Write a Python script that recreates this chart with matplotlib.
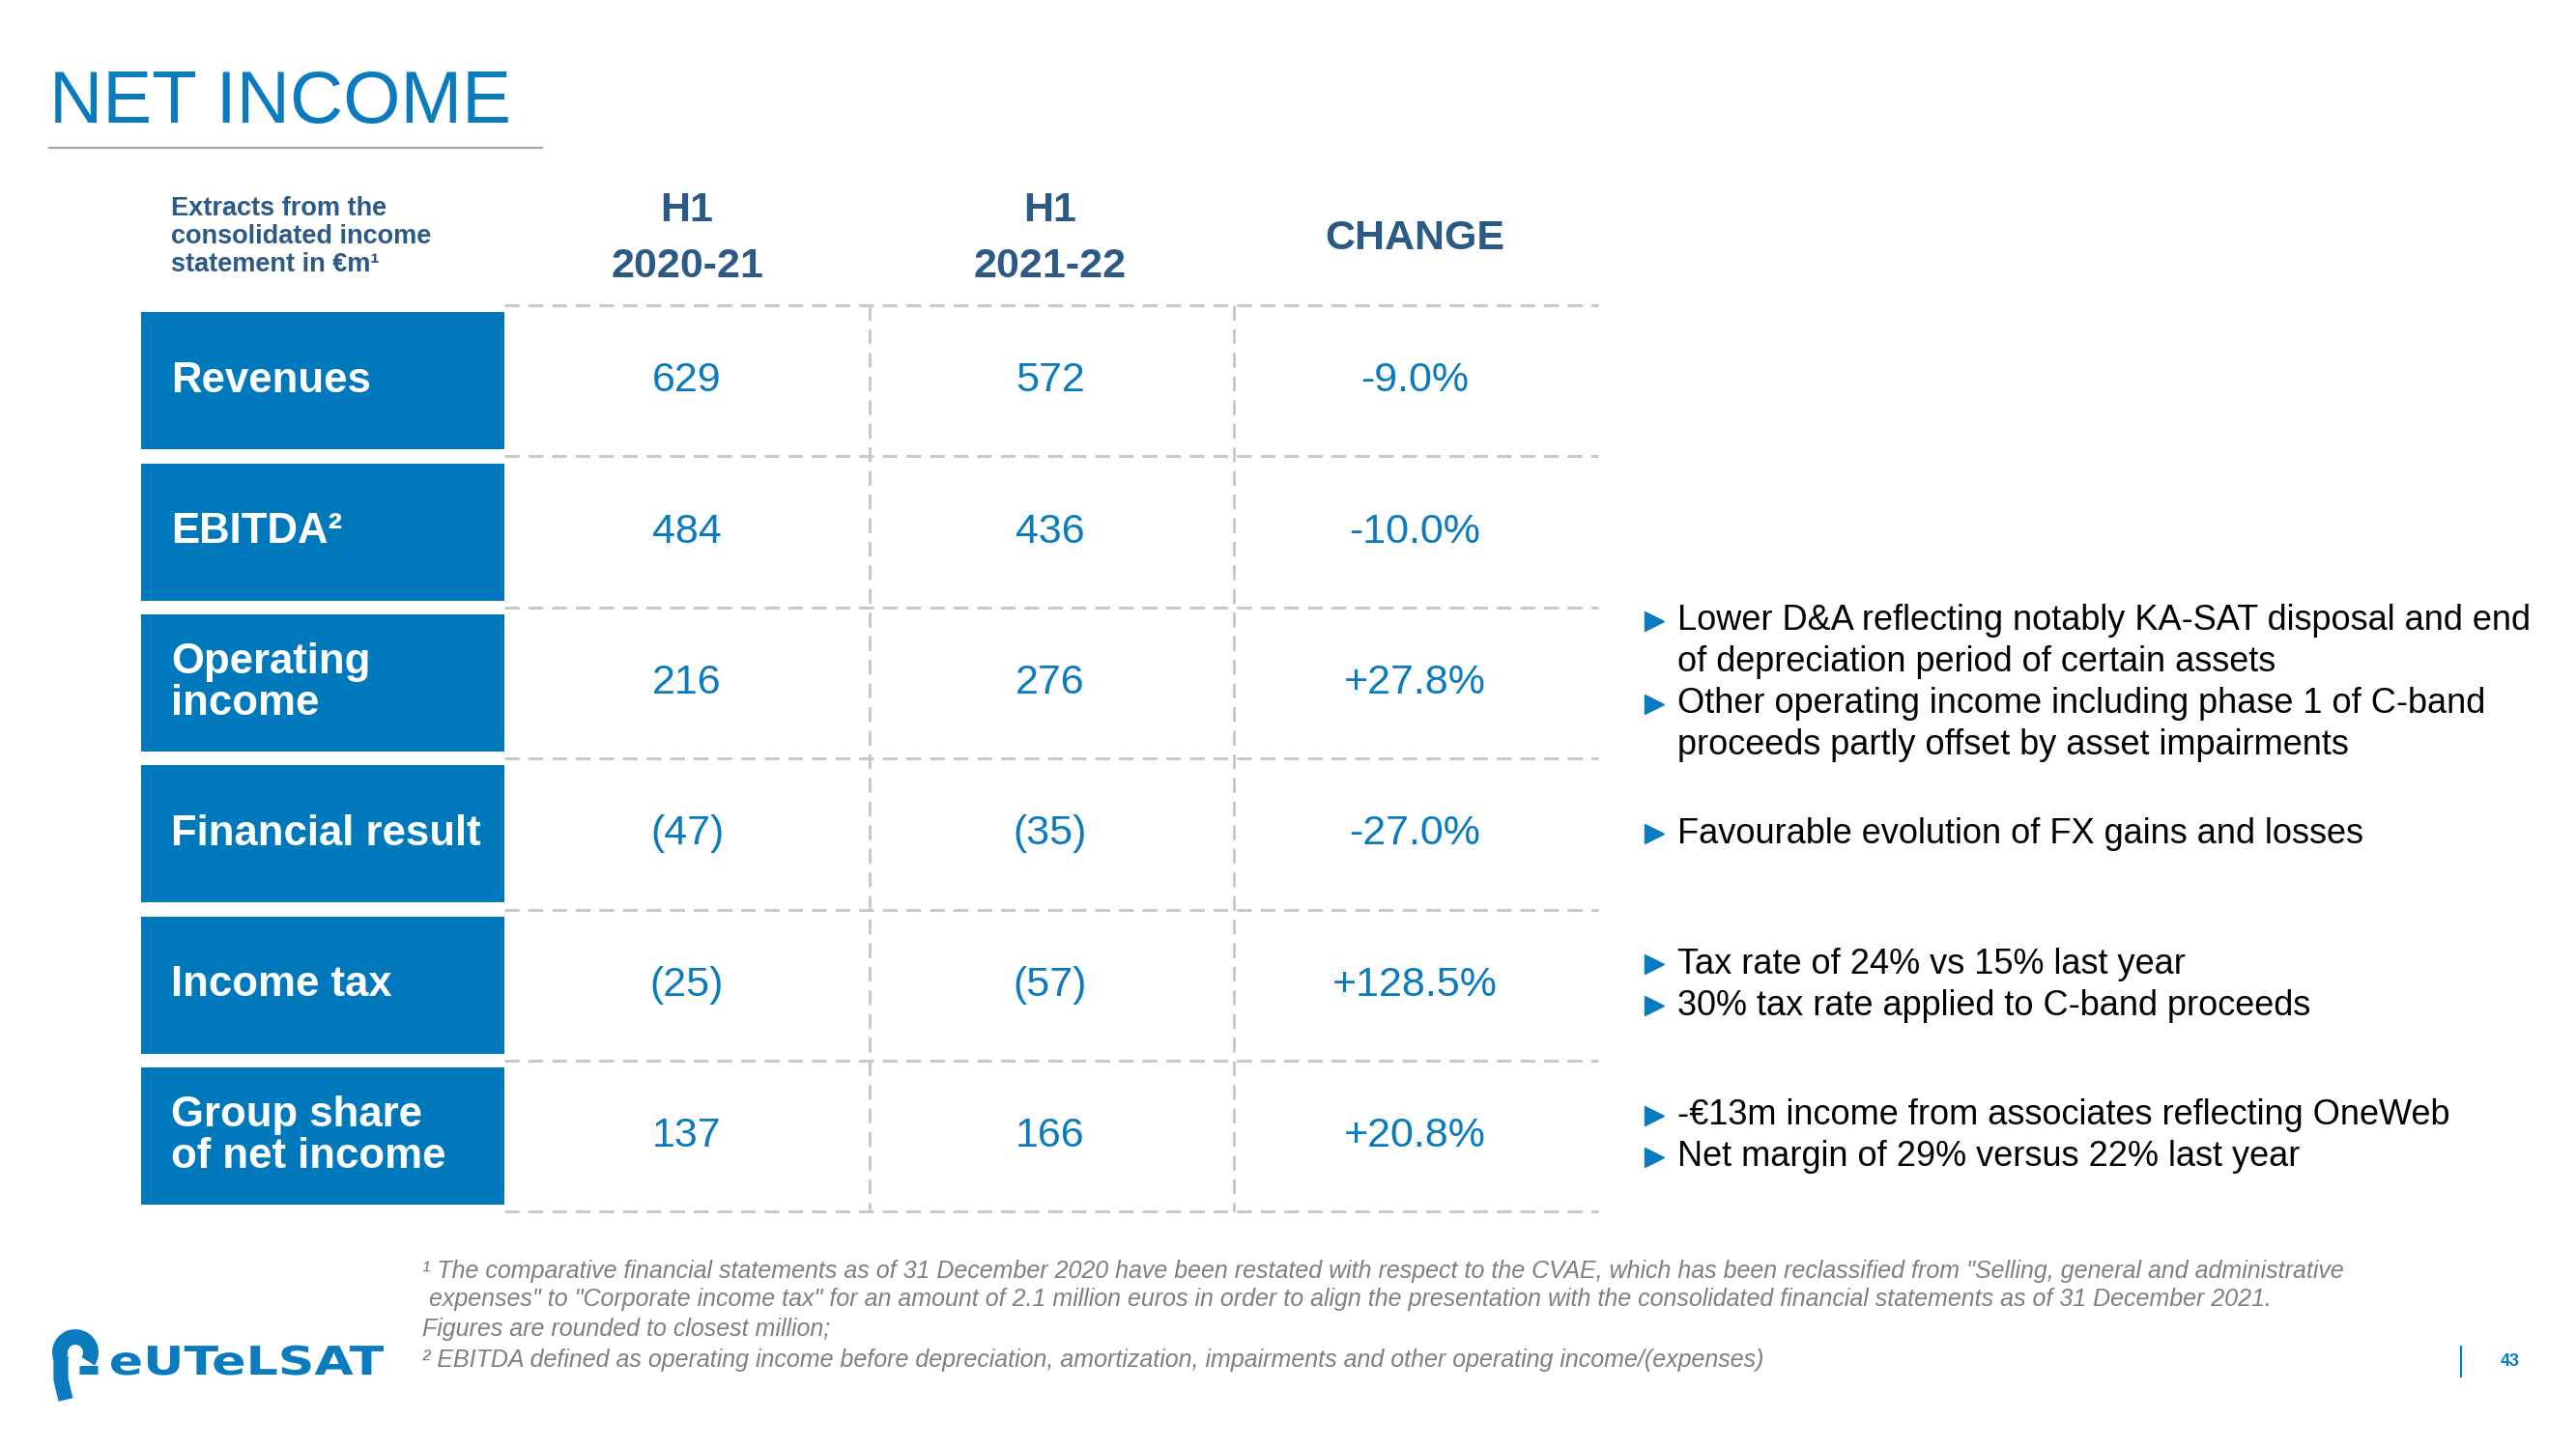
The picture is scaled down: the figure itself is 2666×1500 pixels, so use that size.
import matplotlib
matplotlib.use("Agg")
import matplotlib.pyplot as plt
from matplotlib.patches import Arc, PathPatch
from matplotlib.textpath import TextPath
from matplotlib.font_manager import FontProperties
from matplotlib.transforms import Affine2D

plt.rcParams['font.family'] = ['Liberation Sans', 'DejaVu Sans']

# ---- data ----
row_labels = ["Revenues", "EBITDA²", "Operating\nincome", "Financial result",
              "Income tax", "Group share\nof net income"]
h1_2021 = ["629", "484", "216", "(47)", "(25)", "137"]
h1_2122 = ["572", "436", "276", "(35)", "(57)", "166"]
change = ["-9.0%", "-10.0%", "+27.8%", "-27.0%", "+128.5%", "+20.8%"]
col_heads = ["H1\n2020-21", "H1\n2021-22", "CHANGE"]

# comments per row (row index, text lines, bullet or continuation)
bullets = [
    (2, ["Lower D&A reflecting notably KA-SAT disposal and end",
         "of depreciation period of certain assets",
         "Other operating income including phase 1 of C-band",
         "proceeds partly offset by asset impairments"], [True, False, True, False]),
    (3, ["Favourable evolution of FX gains and losses"], [True]),
    (4, ["Tax rate of 24% vs 15% last year",
         "30% tax rate applied to C-band proceeds"], [True, True]),
    (5, ["-€13m income from associates reflecting OneWeb",
         "Net margin of 29% versus 22% last year"], [True, True]),
]

footnotes = [
    "¹ The comparative financial statements as of 31 December 2020 have been restated with respect to the CVAE, which has been reclassified from \"Selling, general and administrative",
    " expenses\" to \"Corporate income tax\" for an amount of 2.1 million euros in order to align the presentation with the consolidated financial statements as of 31 December 2021.",
    "Figures are rounded to closest million;",
    "² EBITDA defined as operating income before depreciation, amortization, impairments and other operating income/(expenses)",
]

BLUE = "#0a7bbf"
BOX = "#0079bc"
DARK = "#2c5a87"
GRID = "#c9c9c9"

fig = plt.figure(figsize=(26.66, 15), dpi=100)
ax = fig.add_axes([0, 0, 1, 1])
ax.set_xlim(0, 2666)
ax.set_ylim(1500, 0)
ax.axis("off")

# title
ax.text(51, 108, "NET INCOME", fontsize=55, color=BLUE, va="center", ha="left")
ax.plot([51, 561], [153, 153], color="#a6a6a6", lw=1.6)

# header
ax.text(177, 245, "Extracts from the\nconsolidated income\nstatement in €m¹", fontsize=19.5,
        fontweight="bold", color=DARK, va="center", ha="left", linespacing=1.15)
col_x = [711, 1087, 1464]
for cx, h in zip(col_x, col_heads):
    ax.text(cx, 247, h, fontsize=31, fontweight="bold", color=DARK, ha="center",
            va="center", linespacing=1.55)

# table
top = 316
pitch = 156.4
n = len(row_labels)
line_y = [top + i * pitch for i in range(n + 1)]
centers = [top + (i + 0.5) * pitch for i in range(n)]

ax.barh(centers, 376, left=146, height=142, color=BOX, zorder=1)
for y, lab in zip(centers, row_labels):
    ax.text(177, y, lab, fontsize=31.5, fontweight="bold", color="white", ha="left",
            va="center", linespacing=1.08, zorder=3)

for yl in line_y:
    ax.plot([522, 1654], [yl, yl], color=GRID, lw=2.2, dashes=(5, 3), zorder=0)
for xv in [900, 1277]:
    ax.plot([xv, xv], [line_y[0], line_y[-1]], color=GRID, lw=2.2, dashes=(5, 3), zorder=0)

for col, vals in zip(col_x, [h1_2021, h1_2122, change]):
    for y, v in zip(centers, vals):
        ax.text(col, y, v, fontsize=31, color=BLUE, ha="center", va="center")

# comments
lh = 43
for ri, lines, marks in bullets:
    yc = centers[ri]
    y0 = yc - (len(lines) - 1) * lh / 2
    for k, (t, m) in enumerate(zip(lines, marks)):
        yy = y0 + k * lh
        if m:
            ax.plot([1712], [yy], marker=">", ms=15, color=BLUE, ls="none")
        ax.text(1736, yy, t, fontsize=26, color="black", ha="left", va="center")

# footnotes
for t, fy in zip(footnotes, [1316, 1345, 1376, 1408]):
    ax.text(437, fy, t, fontsize=18, style="italic", color="#7f7f7f", ha="left", va="center")

# logo mark (stylised e) and word
ax.add_patch(Arc((78, 1400), 32, 32, theta1=160, theta2=35, lw=11.5, color=BLUE))
ax.plot([63, 63, 68], [1404, 1428, 1449], color=BLUE, lw=11, solid_capstyle="butt",
        solid_joinstyle="round")
ax.plot([82, 101], [1418, 1418], color=BLUE, lw=6.5, solid_capstyle="butt")
tp = TextPath((0, 0), "eUTeLSAT", size=41, prop=FontProperties(family="DejaVu Sans", weight="bold"))
ext = tp.get_extents()
sx = 282 / ext.width
logo_path = Affine2D().translate(-ext.x0, 0).scale(sx, -1).translate(115, 1423).transform_path(tp)
ax.add_patch(PathPatch(logo_path, color=BLUE, lw=0))

# page number
ax.plot([2547, 2547], [1394, 1425], color=BLUE, lw=1.5)
ax.text(2598, 1410, "43", fontsize=13, fontweight="bold", color=BLUE, ha="center", va="center")

fig.savefig("out.png", dpi=100, facecolor="white")
